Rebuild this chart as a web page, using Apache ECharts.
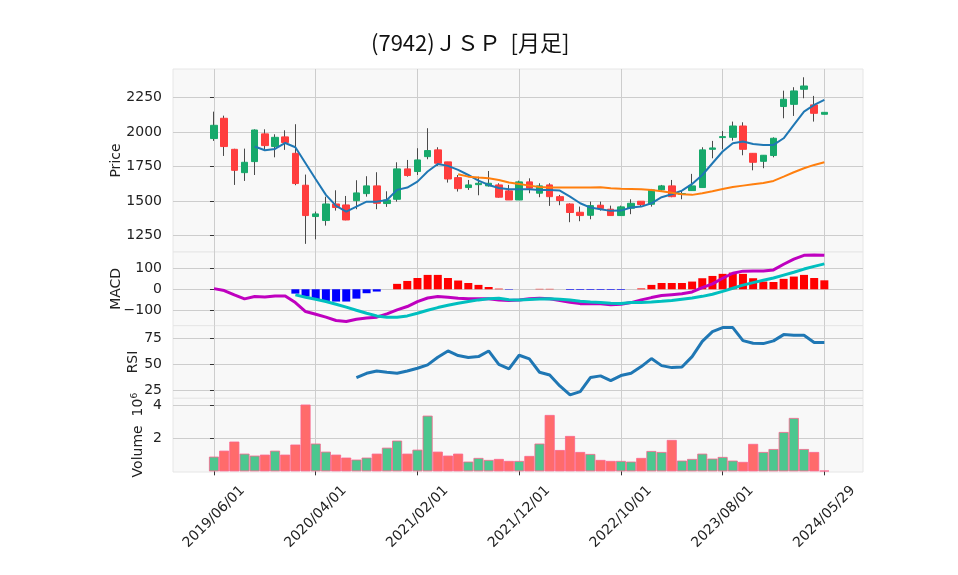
<!DOCTYPE html>
<html><head><meta charset="utf-8">
<script src="https://cdn.jsdelivr.net/npm/echarts@6/dist/echarts.min.js"></script>
<style>html,body{margin:0;padding:0;background:#fff}#c{width:958px;height:575px}</style>
</head><body><div id="c"></div>
<script>
// ---- data (monthly, index 0 = 2019/06/01 ... 60 = 2024/05/29) ----
const tickIdx = [0, 10, 20, 30, 40, 50, 60];
const tickLabels = ['2019/06/01', '2020/04/01', '2021/02/01', '2021/12/01', '2022/10/01', '2023/08/01', '2024/05/29'];

const opens  = [1952,2099,1874,1705,1785,1986,1894,1964,1845,1614,1387,1358,1478,1471,1502,1553,1609,1481,1512,1732,1713,1821,1870,1783,1669,1597,1618,1609,1616,1573,1507,1638,1556,1616,1531,1478,1418,1396,1469,1440,1394,1447,1498,1476,1580,1609,1548,1575,1597,1874,1959,1961,2043,1845,1787,1829,2184,2200,2309,2196,2128];
const closes = [2048,1894,1722,1780,2014,1901,1961,1923,1626,1394,1406,1478,1452,1362,1558,1609,1483,1507,1732,1684,1797,1865,1773,1659,1589,1616,1628,1628,1527,1507,1638,1592,1609,1531,1503,1416,1394,1466,1445,1394,1457,1483,1474,1580,1609,1531,1553,1609,1870,1884,1966,2043,1874,1780,1831,1954,2237,2297,2333,2135,2142];
const lows   = [1935,1826,1616,1645,1688,1870,1816,1870,1614,1189,1222,1321,1430,1360,1440,1531,1440,1457,1495,1676,1688,1802,1754,1633,1568,1580,1541,1604,1524,1507,1507,1556,1527,1464,1469,1346,1353,1367,1430,1394,1391,1404,1459,1459,1575,1527,1512,1575,1597,1809,1874,1937,1831,1722,1737,1816,2099,2116,2244,2075,2128];
const highs  = [2147,2118,1878,1879,2019,2019,1983,2012,2056,1691,1423,1531,1577,1536,1650,1679,1708,1570,1780,1797,1882,2027,1889,1783,1688,1652,1676,1717,1628,1616,1647,1664,1628,1628,1544,1483,1459,1495,1495,1466,1466,1512,1498,1587,1616,1652,1575,1696,1889,1935,2007,2075,2070,1845,1831,1961,2299,2324,2396,2261,2142];
const ma5  = [null,null,null,null,1894,1867,1877,1920,1889,1773,1657,1544,1464,1423,1459,1495,1495,1507,1580,1597,1640,1713,1768,1754,1725,1688,1647,1616,1594,1585,1585,1585,1580,1580,1575,1531,1483,1452,1440,1428,1430,1452,1459,1483,1527,1548,1575,1623,1688,1773,1858,1918,1930,1913,1906,1906,1954,2051,2147,2196,2232];
const ma25 = [null,null,null,null,null,null,null,null,null,null,null,null,null,null,null,null,null,null,null,null,null,null,null,null,1693,1676,1669,1664,1652,1633,1623,1611,1601,1597,1597,1597,1597,1597,1599,1592,1588,1587,1585,1580,1570,1560,1548,1544,1556,1570,1587,1601,1611,1621,1630,1645,1676,1708,1737,1761,1780];
const macd   = [3,-6,-27,-46,-35,-37,-32,-32,-64,-107,-120,-134,-150,-155,-144,-138,-134,-118,-99,-83,-59,-42,-35,-38,-43,-45,-45,-46,-51,-54,-51,-46,-43,-46,-54,-62,-69,-70,-70,-74,-72,-64,-51,-40,-30,-26,-22,-13,8,26,53,77,87,88,88,93,120,145,163,165,163];
const signal = [null,null,null,null,null,null,null,null,-27,-38,-48,-59,-72,-86,-101,-115,-128,-134,-134,-128,-115,-101,-88,-77,-67,-59,-51,-46,-43,-50,-51,-49,-47,-46,-48,-52,-57,-61,-64,-67,-68,-64,-63,-61,-58,-54,-48,-42,-34,-24,-10,5,20,32,43,54,68,82,97,110,122];
const hist   = [null,null,null,null,null,null,null,null,-21,-35,-48,-56,-59,-59,-45,-19,-11,0,26,40,54,69,69,54,42,30,21,11,3,-2,0,0,2,2,0,-3,-3,-3,-3,-3,-3,0,4,21,30,30,30,37,53,64,74,80,74,53,37,35,50,61,69,54,43];
const rsi    = [null,null,null,null,null,null,null,null,null,null,null,null,null,null,37.5,41.6,43.8,42.6,41.6,43.8,46.4,49.6,56.9,62.9,58.5,56.6,57.5,62.9,50,45.7,58.8,55.3,42.6,40.0,29.5,21.0,24.1,37.5,39.1,34.6,39.4,41.6,48.0,55.6,48.9,47.0,47.6,57.5,72.1,81.4,85.2,85.2,72.8,70.2,69.9,72.5,78.5,77.9,77.9,70.9,70.9];
const volume = [0.89,1.25,1.80,1.07,0.95,1.01,1.25,1.01,1.62,4.04,1.68,1.19,1.01,0.83,0.71,0.83,1.07,1.43,1.86,1.07,1.31,3.37,1.19,0.95,1.07,0.59,0.81,0.69,0.75,0.63,0.63,0.93,1.68,3.41,1.29,2.14,1.17,1.05,0.69,0.63,0.63,0.59,0.81,1.23,1.17,1.90,0.65,0.75,1.07,0.77,0.87,0.65,0.57,1.66,1.17,1.35,2.38,3.23,1.35,1.17,0.04];

// ---- styling ----
const FONT = 'DejaVu Sans';
const TXT = '#222';
const UP = '#17a96b', DOWN = '#ff3d3d';
const VUP = '#4cc78f', VDOWN = '#ff6b6b';
const GRIDC = '#cdcdcd';
const BG = '#f8f8f8';
const XMIN = -4.03, XMAX = 63.8;
const L = 173, R = 95;
const panels = [
  {top: 69, height: 183},
  {top: 252, height: 73.7},
  {top: 325.7, height: 72.6},
  {top: 398.3, height: 73.7}
];

const xs = closes.map((_, i) => i);
const pair = arr => arr.map((v, i) => [i, v]).filter(d => d[1] !== null);

function xAxis(gi, bottom) {
  return {
    type: 'value', gridIndex: gi, min: XMIN, max: XMAX,
    axisLine: {show: false},
    axisTick: {show: true, customValues: tickIdx, length: bottom ? 4 : 0, lineStyle: {color: bottom ? '#333' : 'rgba(0,0,0,0)'}},
    axisLabel: bottom ? {
      show: true, customValues: tickIdx,
      formatter: v => tickLabels[tickIdx.indexOf(Math.round(v))] || '',
      rotate: 45, align: 'center', verticalAlign: 'middle', margin: 45,
      fontFamily: FONT, fontSize: 14, color: TXT
    } : {show: false, customValues: tickIdx},
    splitLine: {show: true, lineStyle: {color: GRIDC, width: 1}}
  };
}
const minus = v => (v < 0 ? '\u2212' + Math.abs(v) : String(v));
function yAxis(gi, min, max, ticks, name, nameGap) {
  return {
    type: 'value', gridIndex: gi, min: min, max: max,
    axisLine: {show: false},
    axisTick: {show: true, customValues: ticks, length: 4, lineStyle: {color: '#333'}},
    axisLabel: {show: true, customValues: ticks, formatter: minus, margin: 11, fontFamily: FONT, fontSize: 14, color: TXT},
    splitLine: {show: true, lineStyle: {color: GRIDC, width: 1}},
    name: name, nameLocation: 'middle', nameGap: nameGap, nameRotate: 90, nameMoveOverlap: false,
    nameTextStyle: {fontFamily: FONT, fontSize: 14, color: TXT,
      rich: {a: {fontFamily: FONT, fontSize: 14, color: TXT}, s: {fontFamily: FONT, fontSize: 9, color: TXT, padding: [0, 0, 8, 0]}}}
  };
}

const option = {
  animation: false,
  backgroundColor: '#ffffff',
  title: {
    text: '(7942)ＪＳＰ  [月足]', left: 366, top: 27,
    textStyle: {fontFamily: 'Noto Sans CJK JP', fontSize: 22, fontWeight: 'normal', color: '#111'}
  },
  grid: panels.map(p => ({left: L, right: R, top: p.top, height: p.height, show: true, backgroundColor: BG, borderColor: '#e6e6e6', borderWidth: 1})),
  xAxis: [xAxis(0, false), xAxis(1, false), xAxis(2, false), xAxis(3, true)],
  yAxis: [
    yAxis(0, 1130, 2456, [1250, 1500, 1750, 2000, 2250], 'Price', 50),
    yAxis(1, -175, 179, [-100, 0, 100], 'MACD', 50),
    yAxis(2, 17.7, 87, [25, 50, 75], 'RSI', 33),
    yAxis(3, -0.04, 4.42, [2, 4], '{a|Volume}  {a|10}{s|6}', 26)
  ],
  series: [
    { // wicks
      type: 'candlestick', xAxisIndex: 0, yAxisIndex: 0, barWidth: 1, clip: false,
      dimensions: ['x', 'open', 'close', 'low', 'high'],
      encode: {x: 'x', y: ['open', 'close', 'low', 'high']},
      data: xs.map(i => [i, opens[i], closes[i], lows[i], highs[i]]),
      itemStyle: {color: '#4a4a4a', color0: '#4a4a4a', borderColor: '#4a4a4a', borderColor0: '#4a4a4a', borderColorDoji: '#4a4a4a', borderWidth: 1}
    },
    { // bodies
      type: 'candlestick', xAxisIndex: 0, yAxisIndex: 0, barWidth: 7, clip: false,
      dimensions: ['x', 'open', 'close', 'low', 'high'],
      encode: {x: 'x', y: ['open', 'close', 'low', 'high']},
      data: xs.map(i => [i, opens[i], closes[i], Math.min(opens[i], closes[i]), Math.max(opens[i], closes[i])]),
      itemStyle: {color: UP, color0: DOWN, borderColor: UP, borderColor0: DOWN, borderColorDoji: UP, borderWidth: 1}
    },
    {type: 'line', xAxisIndex: 0, yAxisIndex: 0, data: pair(ma5), showSymbol: false, symbol: 'none', lineStyle: {color: '#1f77b4', width: 2}},
    {type: 'line', xAxisIndex: 0, yAxisIndex: 0, data: pair(ma25), showSymbol: false, symbol: 'none', lineStyle: {color: '#ff7f0e', width: 2}},
    {type: 'bar', xAxisIndex: 1, yAxisIndex: 1, data: pair(hist), barWidth: 8,
      itemStyle: {color: p => (p.value[1] >= 0 ? '#ff0000' : '#0000ff')}},
    {type: 'line', xAxisIndex: 1, yAxisIndex: 1, data: pair(macd), symbol: 'none', lineStyle: {color: '#bf00bf', width: 3}},
    {type: 'line', xAxisIndex: 1, yAxisIndex: 1, data: pair(signal), symbol: 'none', lineStyle: {color: '#00bfbf', width: 3}},
    {type: 'line', xAxisIndex: 2, yAxisIndex: 2, data: pair(rsi), symbol: 'none', lineStyle: {color: '#1f77b4', width: 3}},
    {type: 'bar', xAxisIndex: 3, yAxisIndex: 3, data: pair(volume), barWidth: 10,
      itemStyle: {
        color: p => (closes[p.value[0]] >= opens[p.value[0]] ? VUP : VDOWN),
        borderColor: p => (closes[p.value[0]] >= opens[p.value[0]] ? '#3dbb83' : '#f35252'),
        borderWidth: 0.8
      }}
  ]
};
const chart = echarts.init(document.getElementById('c'), null, {renderer: 'canvas'});
chart.setOption(option);
</script>
</body></html>
